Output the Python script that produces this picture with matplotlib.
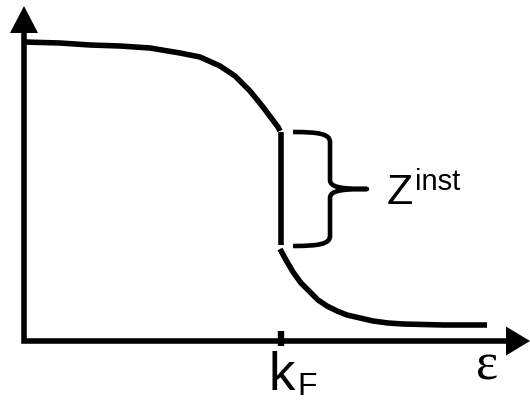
import matplotlib
matplotlib.use("Agg")
import matplotlib.pyplot as plt
from matplotlib.patches import Polygon, PathPatch
from matplotlib.path import Path

# Occupation curve: energy (x) and occupation (y), in arbitrary units
k_F = 256
eps_below = [0, 36, 66, 96, 126, 156, 176, 196, 211, 226, 239, 254, 256]
occ_below = [299, 298, 296, 295, 293, 288, 284, 275, 265, 250, 234, 214, 210]
eps_above = [256, 262, 269, 277, 286, 294, 303, 313, 323, 336, 349, 364, 379, 419, 463]
occ_above = [92, 81, 69, 58, 49, 41, 35, 30, 26, 23, 20, 18, 17, 16, 16]

# Axis extents (arrow tips)
x_axis_end = 506
y_axis_end = 335

# Labels
x_label = "ε"
tick_label = "k"
tick_sub = "F"
jump_label = "Z"
jump_sup = "inst"

LW = 4.0
fig = plt.figure(figsize=(5.30, 4.02), dpi=100)
ax = fig.add_axes([0, 0, 1, 1])
ax.set_xlim(-24, 506)
ax.set_ylim(-60, 342)
ax.axis("off")

# Axes with arrow heads
head_len_y, head_w_y = 27, 28
head_len_x, head_w_x = 24, 29
ax.plot([0, 0, x_axis_end - head_len_x], [y_axis_end - head_len_y, 0, 0],
        color="black", lw=LW, solid_joinstyle="miter", solid_capstyle="butt")
ax.add_patch(Polygon([(-head_w_y / 2, y_axis_end - head_len_y),
                      (head_w_y / 2, y_axis_end - head_len_y),
                      (0, y_axis_end)], closed=True, color="black", lw=0))
ax.add_patch(Polygon([(x_axis_end - head_len_x, -head_w_x / 2),
                      (x_axis_end - head_len_x, head_w_x / 2),
                      (x_axis_end, 0)], closed=True, color="black", lw=0))

# Tick at k_F
ax.plot([k_F + 1, k_F + 1], [-5, 10], color="black", lw=4.6, solid_capstyle="butt")

# Curve below and above k_F, with the jump at k_F
ax.plot(eps_below, occ_below, color="black", lw=LW, solid_capstyle="butt",
        solid_joinstyle="round")
ax.plot(eps_above, occ_above, color="black", lw=LW, solid_capstyle="butt",
        solid_joinstyle="round")
ax.plot([k_F + 1, k_F + 1], [occ_below[-1] - 1, occ_above[0] + 4], color="black",
        lw=LW, solid_capstyle="butt")

# Curly brace marking the jump
top = occ_below[-1] - 1
bot = occ_above[0] + 3
mid = (top + bot) / 2
xa, xv, xt = k_F + 13, k_F + 50, k_F + 87
verts = [
    (xa, top),
    (xa + 26, top), (xv, top - 2), (xv, top - 10),
    (xv, mid + 9),
    (xv, mid + 2), (xv + 10, mid), (xt, mid),
    (xv + 10, mid), (xv, mid - 2), (xv, mid - 9),
    (xv, bot + 10),
    (xv, bot + 2), (xa + 26, bot), (xa, bot),
]
codes = [Path.MOVETO,
         Path.CURVE4, Path.CURVE4, Path.CURVE4,
         Path.LINETO,
         Path.CURVE4, Path.CURVE4, Path.CURVE4,
         Path.CURVE4, Path.CURVE4, Path.CURVE4,
         Path.LINETO,
         Path.CURVE4, Path.CURVE4, Path.CURVE4]
ax.add_patch(PathPatch(Path(verts, codes), facecolor="none", edgecolor="black",
                       lw=3.3, capstyle="butt", joinstyle="round"))

sans = "Liberation Sans"
ax.text(xt + 20, mid - 14, jump_label, fontsize=31, family=sans,
        ha="left", va="baseline")
ax.text(xt + 48, mid, jump_sup, fontsize=21, family=sans,
        ha="left", va="baseline")

ax.text(k_F - 11, -48, tick_label, fontsize=38, family=sans,
        ha="left", va="baseline")
ax.text(k_F + 17, -53, tick_sub, fontsize=23, family=sans,
        ha="left", va="baseline")

ax.text(452, -38, x_label, fontsize=38, family="Liberation Serif",
        ha="left", va="baseline")

fig.savefig("out.png", dpi=100)
